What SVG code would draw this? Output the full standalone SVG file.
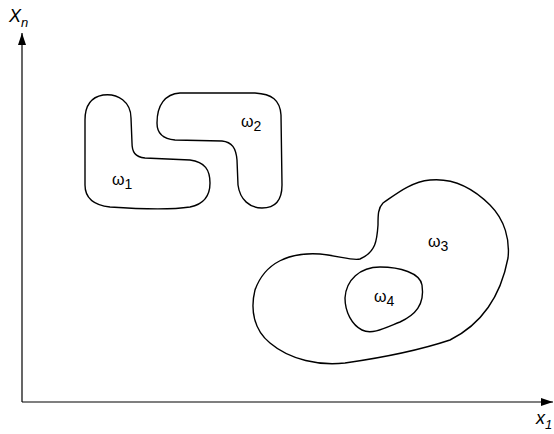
<svg xmlns="http://www.w3.org/2000/svg" width="554" height="434" viewBox="0 0 554 434">
<defs>
<style>
.r{fill:none;stroke:#000;stroke-width:1.4}
.ax{stroke:#000;stroke-width:1.2;fill:none}
.t{font-family:"Liberation Sans",Arial,sans-serif;font-size:16px;fill:#000}
.a{font-family:"Liberation Sans",Arial,sans-serif;font-size:18px;font-style:italic;fill:#000}
</style>
<marker id="ah" viewBox="0 0 12 8" refX="12" refY="4" markerWidth="12" markerHeight="8" markerUnits="userSpaceOnUse" orient="auto">
<path d="M0,0 L12,4 L0,8 Z" fill="#000"/>
</marker>
</defs>
<g id="connectors">
<line class="ax" x1="22" y1="402" x2="22" y2="33" marker-end="url(#ah)"/>
<line class="ax" x1="22" y1="402" x2="553" y2="402" marker-end="url(#ah)"/>
</g>
<g id="axis-labels">
<text class="a" x="9" y="22">X<tspan dy="5" font-size="13">n</tspan></text>
<text class="a" x="536" y="424">x<tspan dy="5" font-size="13">1</tspan></text>
</g>
<g id="omega1">
<path class="r" d="M103,95 C92,97 85,105 85,120 L85,185 C85,197 92,205 110,207 C140,209 170,210 190,207 C205,204 210,195 210,183 C210,170 205,162 190,160 L145,158 C135,157 132,152 132,143 L131,118 C131,102 118,93 103,95 Z"/>
<text class="t" x="112" y="185">ω<tspan dy="4" font-size="14">1</tspan></text>
</g>
<g id="omega2">
<path class="r" d="M180,93 L255,93 C272,94 280,100 281,115 L282,185 C282,200 275,208 262,208 C250,208 240,200 238,185 L237,160 C236,148 232,142 222,141 L175,140 C163,139 157,133 157,123 C157,105 165,94 180,93 Z"/>
<text class="t" x="241" y="127">ω<tspan dy="4" font-size="14">2</tspan></text>
</g>
<g id="omega3">
<path class="r" d="M383,203 C378,208 378,215 378,225 C377,240 376,252 360,259 C352,261 340,256 320,254 C290,252 265,262 255,290 C250,310 254,330 270,343 C290,360 320,366 345,363 C380,358 420,350 450,340 C480,325 500,300 508,258 C510,240 505,220 490,205 C470,185 450,178 430,180 C410,182 395,195 383,203 Z"/>
<text class="t" x="428" y="247">ω<tspan dy="4" font-size="14">3</tspan></text>
</g>
<g id="omega4">
<path class="r" d="M380,267 C400,267 420,273 422,285 C425,305 415,315 400,322 C385,328 372,335 362,330 C352,325 345,312 345,298 C346,280 360,267 380,267 Z"/>
<text class="t" x="374" y="302">ω<tspan dy="4" font-size="14">4</tspan></text>
</g>
</svg>
